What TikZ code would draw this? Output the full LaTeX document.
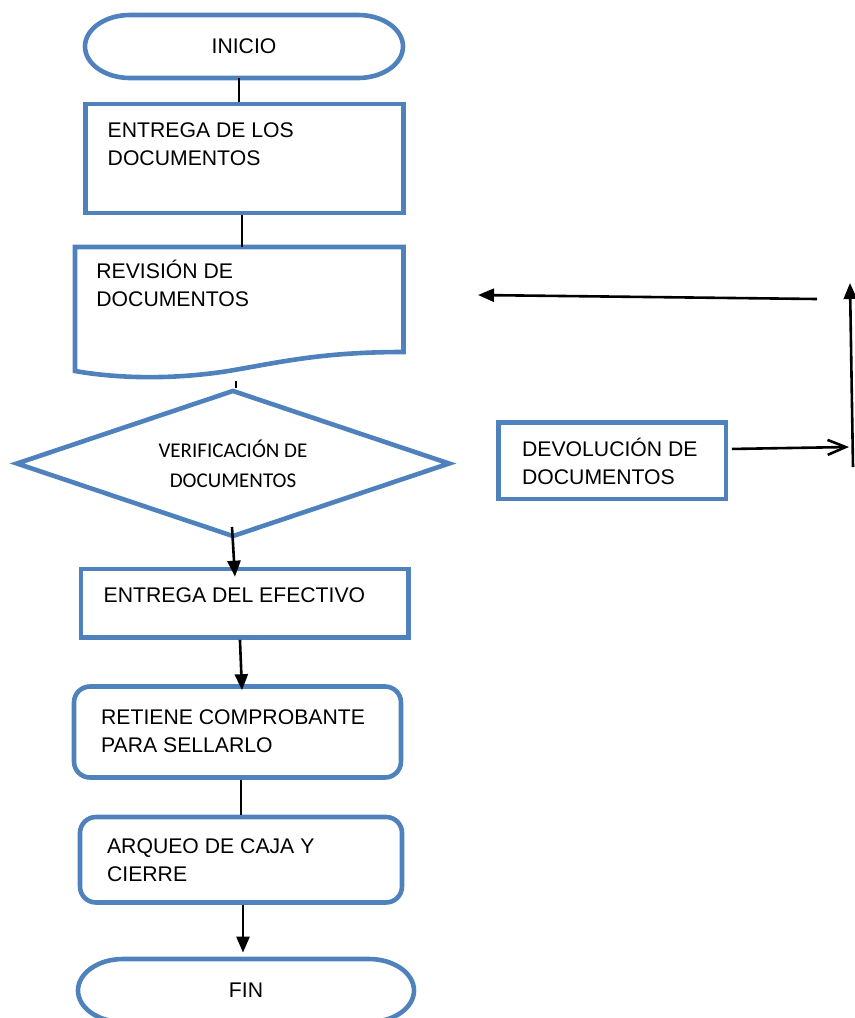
\documentclass[tikz,border=0pt]{standalone}
\usepackage{fontspec}
\setmainfont{Liberation Sans}
\newfontfamily\calibri{Carlito}
\usetikzlibrary{shapes.geometric, arrows.meta, calc}
\definecolor{azul}{RGB}{79,129,189}
\tikzstyle{caja} = [%
					draw = azul,
					line width = 2.3pt,
					rectangle,
					inner sep = 0pt]
\tikzstyle{cajar} = [%
					caja,
					rounded corners = 8pt]
\tikzstyle{borde} = [%
					draw = azul,
					line width = 2.3pt]
\tikzstyle{texto} = [%
					anchor = north west,
					inner sep = 0pt,
					align = left]
\tikzstyle{linea} = [%
					line width = 1.3pt]
\tikzstyle{flecha} = [%
					line width = 1.3pt,
					-{Triangle[length=8pt, width=6.5pt]}]
\tikzstyle{flechaab} = [%
					line width = 1.3pt,
					-{Straight Barb[length=9pt, width=7.5pt]}]

\begin{document}
\begin{tikzpicture}[x=0.5pt, y=-0.5pt, font={\fontsize{10.6}{13.8}\selectfont}]
		\useasboundingbox (0,0) rectangle (855,1018);
		
		% Coordinates
		\coordinate (c-rev) at (236,381);
		\coordinate (c-ver) at (232,527);
		\coordinate (c-der) at (817,299);
		\coordinate (c-izq) at (478,295);
		\coordinate (c-abajo) at (853,467);
		\coordinate (c-arriba) at (850,283);
		\coordinate (c-devol) at (849,447);
		
		% Nodes
		%% Inicio y fin
		\node[inner sep=0pt, minimum width=159pt, minimum height=31.5pt] at (244,46.5) (inicio) {INICIO};
		\node[inner sep=0pt, minimum width=168pt, minimum height=31.5pt] at (246,990.5) (fin) {FIN};
		%% Cajas
		\node[caja, minimum width=159pt, minimum height=54.5pt] at (244.5,158.5) (entrega) {};
		\node[inner sep=0pt, minimum width=164.25pt, minimum height=62pt] at (239.25,309) (revision) {};
		\node[diamond, aspect=2.95, draw=azul, line width=2.3pt, inner sep=0pt, minimum width=217pt, minimum height=73.5pt, align=center, font={\calibri\fontsize{10.5}{15}\selectfont}] at (233,463.5) (verificacion) {VERIFICACIÓN DE\\DOCUMENTOS};
		\node[caja, minimum width=163.75pt, minimum height=34.25pt] at (244.75,603.25) (efectivo) {};
		\node[cajar, minimum width=163.5pt, minimum height=45.5pt] at (237.5,732) (retiene) {};
		\node[cajar, minimum width=161pt, minimum height=42.75pt] at (241,859.75) (arqueo) {};
		\node[caja, minimum width=113.75pt, minimum height=38.25pt] at (612.25,460.75) (devolucion) {};
		%% Textos
		\node[texto] at (107.3,117.7) (t-entrega) {\strut ENTREGA DE LOS\\DOCUMENTOS};
		\node[texto] at (96,259) (t-revision) {\strut REVISIÓN DE\\DOCUMENTOS};
		\node[texto] at (103.3,582.4) (t-efectivo) {\strut ENTREGA DEL EFECTIVO};
		\node[texto] at (100.7,704.7) (t-retiene) {\strut RETIENE COMPROBANTE\\PARA SELLARLO};
		\node[texto] at (106.7,834) (t-arqueo) {\strut ARQUEO DE CAJA Y\\CIERRE};
		\node[texto] at (521.7,436.7) (t-devolucion) {\strut DEVOLUCIÓN DE\\DOCUMENTOS};
		
		% Terminales
		\draw[borde, shift={(inicio.center)}] (-114,-31.5) -- (114,-31.5) .. controls (138.8,-31.5) and (159,-17.4) .. (159,0) .. controls (159,17.4) and (138.8,31.5) .. (114,31.5) -- (-114,31.5) .. controls (-138.8,31.5) and (-159,17.4) .. (-159,0) .. controls (-159,-17.4) and (-138.8,-31.5) .. (-114,-31.5) -- cycle;
		\draw[borde, shift={(fin.center)}] (-123,-31.5) -- (123,-31.5) .. controls (147.8,-31.5) and (168,-17.4) .. (168,0) .. controls (168,17.4) and (147.8,31.5) .. (123,31.5) -- (-123,31.5) .. controls (-147.8,31.5) and (-168,17.4) .. (-168,0) .. controls (-168,-17.4) and (-147.8,-31.5) .. (-123,-31.5) -- cycle;
		
		% Documento
		\draw[borde] (75,371) -- (75,247) -- (403.5,247) -- (403.5,352) .. controls (330,352) and (290,360) .. (240,369) .. controls (180,380) and (120,379) .. (75,371) -- cycle;
		
		% Conectores
		\draw[linea] ([xshift=-2.5pt]inicio.south) -- ([xshift=-2.5pt]inicio.south |- entrega.north);
		\draw[linea] ([xshift=-1.25pt]entrega.south) -- ([xshift=-1.25pt]entrega.south |- revision.north);
		\draw[linea] (c-rev) -- (c-rev |- verificacion.north);
		\draw[flecha] (c-ver) -- ([xshift=-4.9pt, yshift=-5pt]efectivo.north);
		\draw[flecha] ([xshift=-2.4pt]efectivo.south) -- ([xshift=2.25pt, yshift=-3pt]retiene.north);
		\draw[linea] ([xshift=1.75pt]retiene.south) -- ([xshift=1.75pt]retiene.south |- arqueo.north);
		\draw[flecha] ([xshift=1pt]arqueo.south) -- ([xshift=1pt, yshift=3pt]arqueo.south |- fin.north);
		\draw[flecha] (c-der) -- (c-izq);
		\draw[flecha] (c-abajo) -- (c-arriba);
		\draw[flechaab] ([xshift=1.75pt, yshift=5.9pt]devolucion.east) -- (c-devol);
	\end{tikzpicture}
\end{document}
